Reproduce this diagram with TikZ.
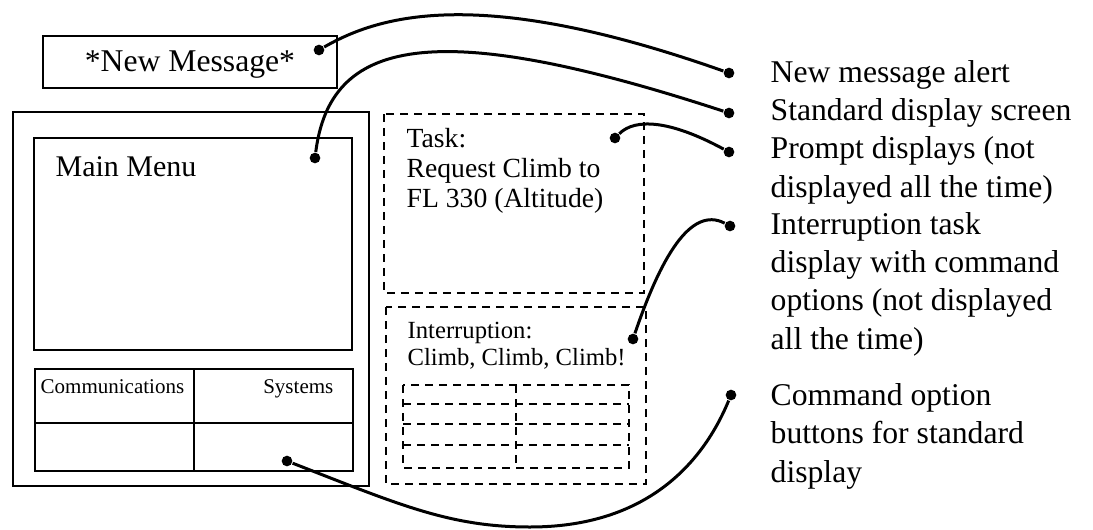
\documentclass[tikz,border=0pt]{standalone}
\usepackage{fontspec}
\setmainfont{Liberation Serif}
\usepackage{tikz}

\begin{document}
\begin{tikzpicture}[x=0.3pt, y=-0.3pt]
    % Style definitions (multi-line notes are placed at the baseline of their last line)
    \tikzset{
        frame/.style={black, line width=0.6pt},
        dashbox/.style={black, line width=0.85pt, dash pattern=on 2.4pt off 1.8pt},
        lead/.style={black, line width=0.9pt},
        dot/.style={circle, fill=black, inner sep=0pt, minimum size=3.2pt},
        note/.style={anchor=base west, inner sep=0pt, align=left, font=\fontsize{9.5}{11.5}\selectfont}
    }
    \useasboundingbox (0,0) rectangle (1093,529);

    % ==========================================
    % STANDARD DISPLAY (left)
    % ==========================================
    \draw[frame] (43,36) rectangle (337,88);
    \node[anchor=base, inner sep=0pt, font=\fontsize{9.5}{11}\selectfont] (newmsg) at (190,71) {*New Message*};

    \draw[frame] (13,112) rectangle (369,486);
    \draw[frame] (34,138) rectangle (352,350);
    \node[anchor=base west, inner sep=0pt, font=\fontsize{9}{10}\selectfont] (mainmenu) at (55,176) {Main Menu};

    % buttons
    \draw[frame] (35,369) rectangle (353,471);
    \draw[frame] (194,369) -- (194,471);
    \draw[frame] (35,423) -- (353,423);
    \node[anchor=base west, inner sep=0pt, font=\fontsize{6.3}{7}\selectfont] (comms) at (40,393) {Communications};
    \node[anchor=base east, inner sep=0pt, font=\fontsize{6.3}{7}\selectfont] (systems) at (334,393) {Systems};

    % ==========================================
    % PROMPT AND INTERRUPTION DISPLAYS (dashed)
    % ==========================================
    \draw[dashbox] (384,114) rectangle (644,293);
    \node[anchor=base west, inner sep=0pt, align=left, font=\fontsize{8.3}{9}\selectfont] (task) at (406,207) {Task:\\Request Climb to\\FL 330 (Altitude)};

    \draw[dashbox] (386,307) rectangle (646,484);
    \node[anchor=base west, inner sep=0pt, align=left, font=\fontsize{7.4}{8.1}\selectfont] (interrupt) at (407,365) {Interruption:\\Climb, Climb, Climb!};

    % command option buttons
    \draw[dashbox] (403,385) rectangle (629,468);
    \draw[dashbox] (516,385) -- (516,468);
    \foreach \y in {404,424,445}
        \draw[dashbox] (403,\y) -- (629,\y);

    % ==========================================
    % CALLOUTS
    % ==========================================
    \node[dot] (pNew) at (319,50) {};
    \node[dot] (pMain) at (315,158) {};
    \node[dot] (pTask) at (615,138) {};
    \node[dot] (pInt) at (633,339) {};
    \node[dot] (pSys) at (287,461) {};

    \node[dot] (qAlert) at (729,73) {};
    \node[dot] (qStd) at (729,113) {};
    \node[dot] (qPrompt) at (729,152) {};
    \node[dot] (qInt) at (730,226) {};
    \node[dot] (qCmd) at (731,395) {};

    \node[note] (nAlert) at (770,82) {New message alert};
    \node[note] (nStd) at (770,120) {Standard display screen};
    \node[note] (nPrompt) at (770,197) {Prompt displays (not\\displayed all the time)};
    \node[note] (nInt) at (770,349) {Interruption task\\display with command\\options (not displayed\\all the time)};
    \node[note] (nCmd) at (770,482) {Command option\\buttons for standard\\display};

    \draw[lead] (pNew) .. controls (380,15) and (480,-15) .. (qAlert);
    \draw[lead] (pMain) .. controls (330,40) and (430,15) .. (qStd);
    \draw[lead] (pTask) .. controls (635,118) and (670,120) .. (qPrompt);
    \draw[lead] (pInt) .. controls (660,260) and (690,205) .. (qInt);
    \draw[lead] (pSys) .. controls (400,505) and (450,527) .. (530,527) .. controls (640,527) and (700,470) .. (qCmd);
\end{tikzpicture}
\end{document}
